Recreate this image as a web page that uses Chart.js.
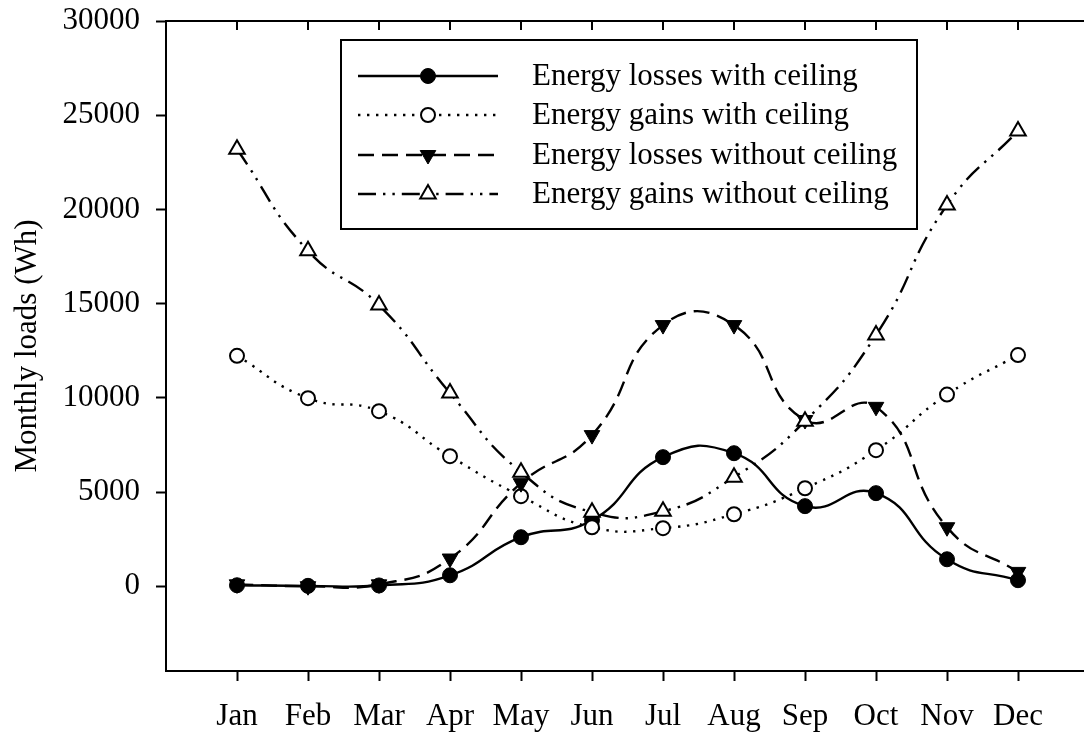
<!DOCTYPE html>
<html>
<head>
<meta charset="utf-8">
<script src="https://cdn.jsdelivr.net/npm/chart.js@4/dist/chart.umd.min.js"></script>
<style>
  html, body { margin: 0; padding: 0; background: #fff; overflow: hidden; }
  #wrap { width: 1084px; height: 732px; overflow: hidden; position: relative; background: #fff; }
  #box { position: absolute; left: 0; top: 0; width: 1100px; height: 732px; }
</style>
</head>
<body>
<div id="wrap"><div id="box"><canvas id="c"></canvas></div></div>
<script>
// Monthly heat loads (Wh) for the room with and without the ceiling
const months = ['Jan', 'Feb', 'Mar', 'Apr', 'May', 'Jun', 'Jul', 'Aug', 'Sep', 'Oct', 'Nov', 'Dec'];
const lossesWithCeiling    = [50, 20, 40, 580, 2600, 3500, 6850, 7060, 4250, 4940, 1430, 320];
const gainsWithCeiling     = [12230, 9980, 9290, 6900, 4780, 3130, 3080, 3820, 5200, 7220, 10170, 12270];
const lossesWithoutCeiling = [100, 0, 100, 1470, 5470, 8020, 13860, 13860, 8820, 9520, 3130, 760];
const gainsWithoutCeiling  = [23190, 17800, 14920, 10250, 6050, 3930, 3980, 5790, 8760, 13330, 20230, 24160];
const yTickValues = [0, 5000, 10000, 15000, 20000, 25000, 30000];
const seriesNames = [
  'Energy losses with ceiling',
  'Energy gains with ceiling',
  'Energy losses without ceiling',
  'Energy gains without ceiling'
];

const FONT = "'Liberation Serif', 'Times New Roman', serif";
const FONT_SIZE = 31;
const TENSION = 0.5;

const toPoints = arr => arr.map((v, i) => ({ x: i, y: v }));

const base = {
  borderColor: '#000',
  borderWidth: 2.4,
  fill: false,
  tension: TENSION,
  pointBorderColor: '#000',
  pointHoverRadius: 0
};

const datasets = [
  Object.assign({}, base, {
    label: seriesNames[0], data: toPoints(lossesWithCeiling), order: 3,
    borderDash: [], pointStyle: 'circle', pointRadius: 7.5,
    pointBackgroundColor: '#000', pointBorderWidth: 1, pointRotation: 0
  }),
  Object.assign({}, base, {
    label: seriesNames[1], data: toPoints(gainsWithCeiling), order: 2,
    borderDash: [2.4, 6.6], pointStyle: 'circle', pointRadius: 7,
    pointBackgroundColor: '#fff', pointBorderWidth: 2, pointRotation: 0
  }),
  Object.assign({}, base, {
    label: seriesNames[2], data: toPoints(lossesWithoutCeiling), order: 1,
    borderDash: [16, 8], pointStyle: 'triangle', pointRadius: 9,
    pointBackgroundColor: '#000', pointBorderWidth: 1, pointRotation: 180
  }),
  Object.assign({}, base, {
    label: seriesNames[3], data: toPoints(gainsWithoutCeiling), order: 0,
    borderDash: [18, 7, 2.4, 7, 2.4, 7], pointStyle: 'triangle', pointRadius: 9,
    pointBackgroundColor: '#fff', pointBorderWidth: 2, pointRotation: 0
  })
];

// Top frame line with inward month ticks
const topFrame = {
  id: 'topFrame',
  afterDraw(chart) {
    const { ctx, chartArea } = chart;
    const xs = chart.scales.x;
    ctx.save();
    ctx.strokeStyle = '#000';
    ctx.lineWidth = 2;
    ctx.beginPath();
    ctx.moveTo(chartArea.left - 1, chartArea.top);
    ctx.lineTo(chartArea.right, chartArea.top);
    months.forEach((m, i) => {
      const px = xs.getPixelForValue(i);
      ctx.moveTo(px, chartArea.top);
      ctx.lineTo(px, chartArea.top + 9);
    });
    ctx.stroke();
    ctx.restore();
  }
};

// Boxed key drawn inside the plot area
const keyBox = {
  id: 'keyBox',
  afterDraw(chart) {
    const { ctx } = chart;
    const box = { left: 341, top: 40, right: 917, bottom: 229 };
    const rows = [76, 115, 155, 194];
    ctx.save();
    ctx.fillStyle = '#fff';
    ctx.fillRect(box.left, box.top, box.right - box.left, box.bottom - box.top);
    ctx.strokeStyle = '#000';
    ctx.lineWidth = 2;
    ctx.setLineDash([]);
    ctx.strokeRect(box.left, box.top, box.right - box.left, box.bottom - box.top);

    chart.data.datasets.forEach((ds, i) => {
      const y = rows[i];
      ctx.save();
      ctx.strokeStyle = ds.borderColor;
      ctx.lineWidth = ds.borderWidth;
      ctx.setLineDash(ds.borderDash || []);
      ctx.beginPath();
      ctx.moveTo(358, y);
      ctx.lineTo(498, y);
      ctx.stroke();
      ctx.restore();

      ctx.save();
      ctx.setLineDash([]);
      ctx.fillStyle = ds.pointBackgroundColor;
      ctx.strokeStyle = ds.pointBorderColor;
      ctx.lineWidth = ds.pointBorderWidth;
      Chart.helpers.drawPoint(ctx, {
        pointStyle: ds.pointStyle,
        rotation: ds.pointRotation,
        radius: ds.pointRadius,
        borderWidth: ds.pointBorderWidth
      }, 428, y);
      ctx.restore();

      ctx.fillStyle = '#000';
      ctx.font = FONT_SIZE + 'px ' + FONT;
      ctx.textAlign = 'left';
      ctx.textBaseline = 'middle';
      ctx.fillText(ds.label, 532, y + 1);
    });
    ctx.restore();
  }
};

new Chart(document.getElementById('c'), {
  type: 'line',
  data: { datasets },
  options: {
    responsive: true,
    maintainAspectRatio: false,
    animation: false,
    events: [],
    layout: { padding: { top: 21, right: 5, left: 0, bottom: 0 } },
    plugins: { legend: { display: false }, tooltip: { enabled: false } },
    scales: {
      x: {
        type: 'linear',
        min: -1,
        max: 12,
        afterBuildTicks: s => { s.ticks = months.map((m, i) => ({ value: i })); },
        afterFit: s => { s.height = 61; s.paddingLeft = 0; s.paddingRight = 0; },
        border: { display: true, color: '#000', width: 2 },
        grid: { drawOnChartArea: false, drawTicks: true, tickLength: 10, tickWidth: 2, tickColor: '#000' },
        ticks: {
          autoSkip: false, maxRotation: 0, padding: 17, color: '#000',
          font: { family: FONT, size: FONT_SIZE },
          callback: v => months[v] !== undefined ? months[v] : ''
        }
      },
      y: {
        type: 'linear',
        min: -4500,
        max: 30000,
        afterBuildTicks: s => { s.ticks = yTickValues.map(v => ({ value: v })); },
        afterFit: s => { s.width = 166; s.paddingTop = 0; s.paddingBottom = 0; },
        border: { display: true, color: '#000', width: 2 },
        grid: { drawOnChartArea: false, drawTicks: true, tickLength: 10, tickWidth: 2, tickColor: '#000' },
        ticks: {
          padding: 16, color: '#000',
          font: { family: FONT, size: FONT_SIZE },
          callback: v => String(v)
        },
        title: {
          display: true,
          text: 'Monthly loads (Wh)',
          color: '#000',
          font: { family: FONT, size: FONT_SIZE },
          padding: { top: 9, bottom: 0 }
        }
      }
    }
  },
  plugins: [topFrame, keyBox]
});
</script>
</body>
</html>
